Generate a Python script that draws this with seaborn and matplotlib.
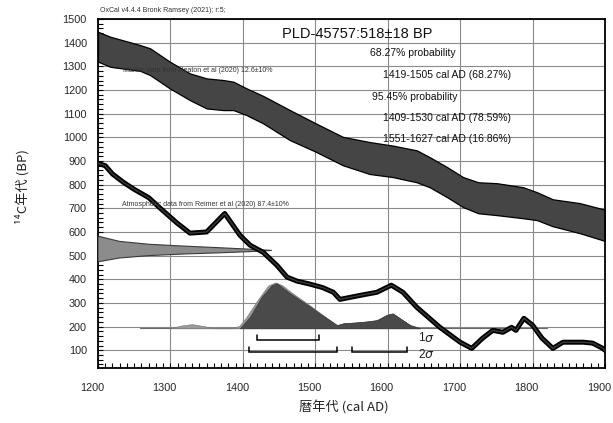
import numpy as np
import pandas as pd
import matplotlib
matplotlib.use("Agg")
import matplotlib.pyplot as plt
import matplotlib.transforms as mtransforms
import seaborn as sns
from matplotlib.ticker import MultipleLocator

# ---------------- data ----------------
# Marine calibration band (Heaton et al 2020): upper and lower edges
marine_years = [1200, 1217, 1258, 1272, 1299, 1327, 1350, 1373, 1387, 1405, 1428, 1465,
                1500, 1538, 1575, 1607, 1640, 1658, 1682, 1704, 1725, 1751, 1787, 1806,
                1828, 1865, 1900]
marine_upper = [1446, 1425, 1390, 1376, 1320, 1270, 1249, 1242, 1235, 1207, 1175, 1115,
                1060, 1002, 980, 965, 945, 916, 874, 832, 810, 806, 789, 768,
                738, 722, 694]
marine_lower = [1320, 1298, 1281, 1263, 1207, 1157, 1122, 1115, 1115, 1094, 1059, 988,
                940, 882, 845, 832, 810, 789, 747, 705, 679, 671, 658, 650,
                624, 595, 562]

# Atmospheric calibration curve (Reimer et al 2020)
atm_years = [1200, 1210, 1220, 1235, 1250, 1270, 1286, 1309, 1327, 1350, 1375, 1396,
             1410, 1428, 1447, 1461, 1475, 1492, 1510, 1525, 1534, 1562, 1585, 1605,
             1621, 1640, 1672, 1700, 1716, 1731, 1745, 1759, 1771, 1777, 1788, 1800,
             1813, 1828, 1842, 1870, 1883, 1897, 1900]
atm_bp = [890, 880, 845, 810, 780, 745, 700, 638, 595, 600, 678, 586,
          544, 514, 459, 409, 392, 380, 365, 345, 315, 332, 345, 375,
          345, 282, 197, 134, 108, 151, 184, 176, 197, 184, 235, 206,
          151, 108, 134, 134, 130, 108, 100]

# Radiocarbon date distribution drawn along the y axis (518 +/- 18 BP)
date_reach = [1200, 1230, 1270, 1320, 1370, 1410, 1440]
date_upper = [582, 560, 548, 540, 533, 527, 522]
date_lower = [474, 490, 500, 507, 512, 517, 522]

# Calibrated probability (relative) on the calendar axis
post_years = [1396, 1410, 1426, 1440, 1447, 1456, 1465, 1479, 1493, 1506, 1516, 1530,
              1539, 1557, 1571, 1585, 1599, 1607, 1617, 1631, 1645]
post_dark = [0, 0.26, 0.70, 0.96, 1.0, 0.89, 0.78, 0.63, 0.48, 0.33, 0.22, 0.07,
             0.11, 0.13, 0.15, 0.18, 0.30, 0.33, 0.22, 0.07, 0]
like_years = [1300, 1315, 1330, 1345, 1360, 1385, 1395, 1405, 1420, 1435, 1445, 1455,
              1465, 1480, 1495, 1510, 1530, 1539, 1557, 1571, 1585, 1599, 1607, 1617,
              1631, 1645]
like_light = [0, 0.06, 0.09, 0.05, 0, 0, 0.05, 0.25, 0.62, 0.95, 1.02, 0.95,
              0.82, 0.65, 0.48, 0.30, 0.07, 0.11, 0.13, 0.15, 0.18, 0.30, 0.33, 0.22,
              0.07, 0]

# 1 sigma / 2 sigma ranges
ranges_1s = [(1419, 1505)]
ranges_2s = [(1409, 1530), (1551, 1627)]

title = "PLD-45757:518\u00b118 BP"
summary_lines = ["68.27% probability",
                 "1419-1505 cal AD (68.27%)",
                 "95.45% probability",
                 "1409-1530 cal AD (78.59%)",
                 "1551-1627 cal AD (16.86%)"]

# ---------------- figure ----------------
sns.set_theme(style="white")
plt.rcParams['font.family'] = ['Liberation Sans', 'Noto Sans CJK JP', 'DejaVu Sans']

fig = plt.figure(figsize=(6.13, 4.23), dpi=100)
ax = fig.add_axes([98/613, 1 - 368/423, (605-98)/613, (368-19)/423])
ax.set_xlim(1200, 1900)
ax.set_ylim(25, 1500)

ax.xaxis.set_major_locator(MultipleLocator(100))
ax.xaxis.set_minor_locator(MultipleLocator(10))
ax.grid(True, which='major', color='#8a8a8a', lw=0.8)
ax.set_axisbelow(True)
ax.tick_params(which='both', direction='in', length=3.5, width=0.8, color='black',
               left=True, bottom=True)
ax.tick_params(axis='x', which='major', pad=11, labelsize=7.8)
ax.tick_params(axis='y', which='major', pad=8, labelsize=7.8)
for s in ax.spines.values():
    s.set_color('black')
    s.set_linewidth(1.3)
ax.set_yticks(range(100, 1501, 100))
ax.set_yticks(range(40, 1501, 20), minor=True)

# marine band
ax.fill_between(marine_years, marine_lower, marine_upper, facecolor='#454545',
                edgecolor='black', lw=0.9, zorder=2)

# baseline of calibrated distribution
base = 193
scale = 190
ax.plot([1258, 1820], [base, base], color='#6a6a6a', lw=0.8, zorder=3)
ax.fill_between(like_years, base, [base + scale * v for v in like_light],
                facecolor='#9a9a9a', edgecolor='#7a7a7a', lw=0.5, zorder=3)
ax.fill_between(post_years, base, [base + scale * v for v in post_dark],
                facecolor='#4a4a4a', edgecolor='#3a3a3a', lw=0.5, zorder=3)

# date distribution along y
ax.fill(date_reach + date_reach[::-1], date_upper + date_lower[::-1],
        facecolor='#8c8c8c', edgecolor='#3a3a3a', lw=0.8, zorder=4)

# atmospheric curve
atm = pd.DataFrame({'year': atm_years, 'bp': atm_bp})
sns.lineplot(data=atm, x='year', y='bp', color='black', lw=3.6, estimator=None,
             sort=False, ax=ax, zorder=5)
ax.plot(atm_years, atm_bp, color='#3a3a3a', lw=1.0, zorder=6)

# sigma brackets
def bracket(r, y_line, y_top):
    for a, b in r:
        ax.plot([a, a, b, b], [y_top, y_line, y_line, y_top], color='black',
                lw=1.1, zorder=6, solid_joinstyle='miter')

bracket(ranges_1s, 142, 163)
bracket(ranges_2s, 92, 113)
ax.text(1642, 150, "1", fontsize=8.5, va='center', ha='left', color='#222')
ax.text(1651, 150, "\u03c3", fontsize=9, va='center', ha='left', style='italic',
        color='#222', family='DejaVu Sans')
ax.text(1642, 80, "2", fontsize=8.5, va='center', ha='left', color='#222')
ax.text(1651, 80, "\u03c3", fontsize=9, va='center', ha='left', style='italic',
        color='#222', family='DejaVu Sans')

# shift x tick labels slightly left as in the reference
offset = mtransforms.ScaledTranslation(-6/100, 0, fig.dpi_scale_trans)
for lbl in ax.get_xticklabels():
    lbl.set_transform(lbl.get_transform() + offset)

# texts
ax.set_xlabel("")
ax.set_ylabel("")
fig.text(100/613, 1 - 10/423, "OxCal v4.4.4 Bronk Ramsey (2021); r:5;", fontsize=5,
         va='center', ha='left', color='#333')
fig.text(357/613, 1 - 34/423, title, fontsize=10.5, va='center', ha='center',
         color='#111')
ys = [53, 75, 97, 118, 139]
xs = [370, 383, 372, 383, 383]
for t, x, y in zip(summary_lines, xs, ys):
    fig.text(x/613, 1 - y/423, t, fontsize=7.5, va='center', ha='left', color='#111')
fig.text(123/613, 1 - 71/423, "Marine data from Heaton et al (2020) 12.6\u00b110%",
         fontsize=5, va='center', ha='left', color='#333')
fig.text(122/613, 1 - 204/423, "Atmospheric data from Reimer et al (2020) 87.4\u00b110%",
         fontsize=5, va='center', ha='left', color='#333')

fig.text(344/613, 1 - 407/423, "暦年代 (cal AD)", fontsize=9.5, va='center', ha='center',
         family=['Noto Sans CJK JP', 'DejaVu Sans'], color='#222')
fig.text(22/613, 1 - 187/423, "¹⁴C年代 (BP)", fontsize=9.5, va='center', ha='center',
         rotation=90, family=['Noto Sans CJK JP', 'DejaVu Sans'], color='#222')

fig.savefig("out.png", dpi=100)
